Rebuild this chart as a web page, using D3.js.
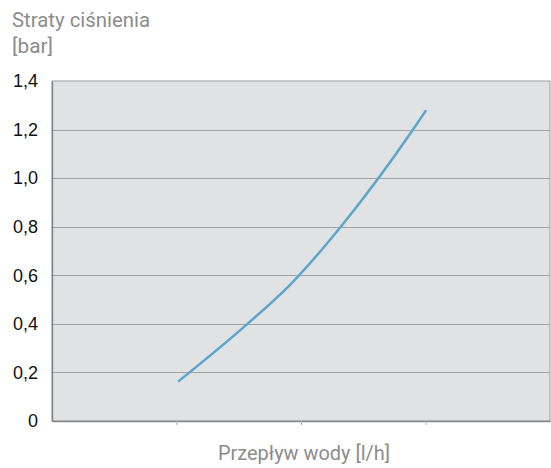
<!DOCTYPE html>
<html>
<head>
<meta charset="utf-8">
<script src="https://cdn.jsdelivr.net/npm/d3@7"></script>
<style>
  body { margin: 0; background: #fff; }
</style>
</head>
<body>
<div id="chart"></div>
<script>
const width = 551;
const height = 468;

// flow positions (axis units, ticks at 1,2,3) and pressure loss [bar]
const flow = [1.02, 1.57, 1.92, 2.32, 2.90, 3.0];
const loss = [0.165, 0.40, 0.565, 0.80, 1.2, 1.276];
const yTicks = [0, 0.2, 0.4, 0.6, 0.8, 1.0, 1.2, 1.4];
const xTicks = [1, 2, 3];

const margin = { top: 81, right: 1, bottom: 47, left: 52 };

const svg = d3.select('#chart')
  .append('svg')
  .attr('width', width)
  .attr('height', height);

const x = d3.scaleLinear()
  .domain([0, 4])
  .range([margin.left, width - margin.right]);

const y = d3.scaleLinear()
  .domain([0, 1.4])
  .range([height - margin.bottom, margin.top]);

// plot background
svg.append('rect')
  .attr('x', x(0))
  .attr('y', y(1.4))
  .attr('width', x(4) - x(0))
  .attr('height', y(0) - y(1.4))
  .attr('fill', '#e1e2e4')
  .attr('stroke', '#9a9a9a')
  .attr('stroke-width', 1);

// gridlines
svg.append('g')
  .selectAll('line')
  .data(yTicks.slice(1, -1))
  .enter()
  .append('line')
  .attr('x1', x(0))
  .attr('x2', x(4))
  .attr('y1', d => Math.round(y(d)) + 0.5)
  .attr('y2', d => Math.round(y(d)) + 0.5)
  .attr('stroke', '#a3a3a3')
  .attr('stroke-width', 1.2);

// y axis
const yAxis = d3.axisLeft(y)
  .tickValues(yTicks)
  .tickSize(0)
  .tickPadding(14)
  .tickFormat(d => d === 0 ? '0' : d3.format('.1f')(d).replace('.', ','));

const gy = svg.append('g')
  .attr('transform', `translate(${x(0)},0)`)
  .call(yAxis);
gy.select('.domain').attr('stroke', '#888').attr('stroke-width', 1.5);
gy.selectAll('text')
  .attr('font-family', 'Liberation Sans, Arial, sans-serif')
  .attr('font-size', 18)
  .attr('fill', '#111');

// x axis (ticks only)
const xAxis = d3.axisBottom(x)
  .tickValues(xTicks)
  .tickSize(4)
  .tickSizeOuter(0)
  .tickFormat('');

const gx = svg.append('g')
  .attr('transform', `translate(0,${y(0)})`)
  .call(xAxis);
gx.select('.domain').attr('stroke', '#888').attr('stroke-width', 1.5);
gx.selectAll('.tick line').attr('stroke', '#b0b0b0');

// line
const line = d3.line()
  .x((d, i) => x(flow[i]))
  .y(d => y(d))
  .curve(d3.curveMonotoneX);

svg.append('path')
  .datum(loss)
  .attr('d', line)
  .attr('fill', 'none')
  .attr('stroke', '#5ba6cd')
  .attr('stroke-width', 2.5)
  .attr('stroke-linecap', 'round');

// titles
const labelFont = 'Roboto, sans-serif';

svg.append('text')
  .attr('x', 12)
  .attr('y', 27)
  .attr('font-family', labelFont)
  .attr('font-size', 20)
  .attr('fill', '#8c8c8c')
  .attr('textLength', 138)
  .attr('lengthAdjust', 'spacingAndGlyphs')
  .text('Straty ciśnienia');

svg.append('text')
  .attr('x', 12)
  .attr('y', 53)
  .attr('font-family', labelFont)
  .attr('font-size', 20)
  .attr('fill', '#8c8c8c')
  .attr('textLength', 41)
  .attr('lengthAdjust', 'spacingAndGlyphs')
  .text('[bar]');

svg.append('text')
  .attr('x', 218)
  .attr('y', 460)
  .attr('font-family', labelFont)
  .attr('font-size', 20)
  .attr('fill', '#8c8c8c')
  .attr('textLength', 172)
  .attr('lengthAdjust', 'spacingAndGlyphs')
  .text('Przepływ wody [l/h]');
</script>
</body>
</html>
